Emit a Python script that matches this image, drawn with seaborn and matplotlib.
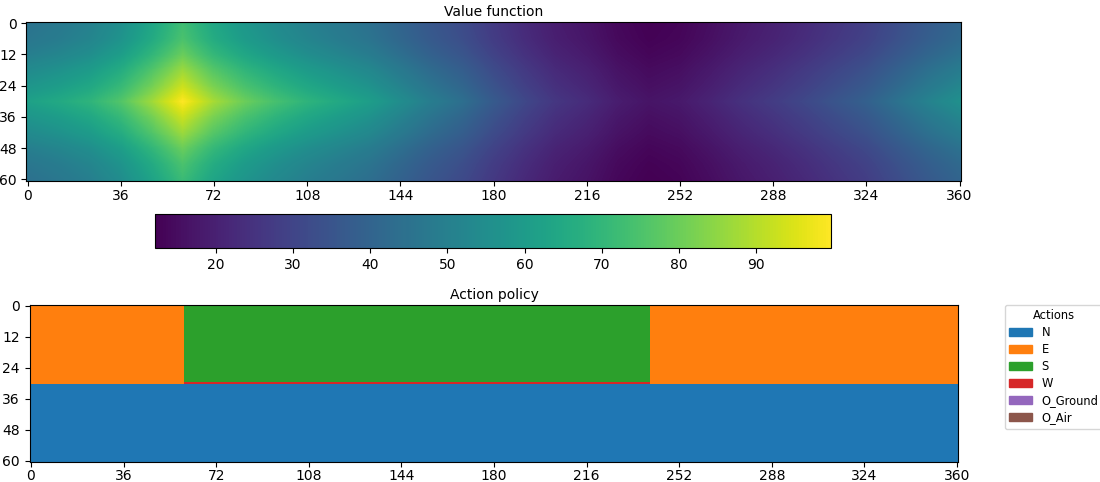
import numpy as np
import matplotlib
matplotlib.use("Agg")
import matplotlib.pyplot as plt
import seaborn as sns
from matplotlib.colors import ListedColormap
from matplotlib.patches import Patch

# ---------------- data ----------------
# Value function read along the row through the peak (every 12 columns, x = 0..360)
x_samples = list(range(0, 361, 12))
col_profile = [62, 65, 69, 76, 87, 99.7, 88, 80, 74, 69, 65, 61, 55, 49, 44, 37,
               31, 26, 23, 19, 16.8, 18, 21, 24.5, 27.5, 31, 35, 39, 45, 51, 56]
# Relative value read along the column through the peak (every 6 rows, y = 0..60), in %
y_samples = list(range(0, 61, 6))
row_profile = [73, 75, 80, 87, 93, 100, 93, 87, 80, 75, 72]

# Action policy
actions = ["N", "E", "S", "W", "O_Ground", "O_Air"]
n_rows, n_cols = 61, 361
seg_row_start = [0, 0, 0, 30, 30, 30, 31]
seg_row_end = [30, 30, 30, 31, 31, 31, 61]
seg_col_start = [0, 60, 241, 0, 60, 241, 0]
seg_col_end = [60, 241, 361, 60, 241, 361, 361]
seg_action = ["E", "S", "E", "E", "W", "E", "N"]

x_ticks = list(range(0, 361, 36))
y_ticks = list(range(0, 61, 12))

# ---------------- tables ----------------
value_grid = np.outer(np.array(row_profile) / 100.0, np.array(col_profile))

policy = np.zeros((n_rows, n_cols), dtype=int)
for r0, r1, c0, c1, a in zip(seg_row_start, seg_row_end, seg_col_start, seg_col_end, seg_action):
    policy[r0:r1, c0:c1] = actions.index(a)

# ---------------- figure ----------------
W, H = 1100, 482
fig = plt.figure(figsize=(W / 100, H / 100), dpi=100)


def rect(l, t, r, b):
    return [l / W, 1 - b / H, (r - l) / W, (b - t) / H]


# Value function
ax1 = fig.add_axes(rect(26.4, 21.8, 960.9, 180.8))
dx = x_samples[1] - x_samples[0]
dy = y_samples[1] - y_samples[0]
im = ax1.imshow(value_grid, cmap="viridis", interpolation="bilinear", aspect="auto",
                extent=(x_samples[0] - dx / 2, x_samples[-1] + dx / 2,
                        y_samples[-1] + dy / 2, y_samples[0] - dy / 2))
ax1.set_xlim(-0.5, 360.5)
ax1.set_ylim(60.5, -0.5)
ax1.set_xticks(x_ticks)
ax1.set_yticks(y_ticks)
ax1.tick_params(axis="x", pad=2.5)
ax1.set_title("Value function", fontsize=10, pad=4)

cax = fig.add_axes(rect(155, 214, 831, 248))
fig.colorbar(im, cax=cax, orientation="horizontal")

# Action policy
colors = sns.color_palette("tab10", len(actions))
ax2 = fig.add_axes(rect(29.7, 304.5, 958.3, 461.8))
sns.heatmap(policy, cmap=ListedColormap(colors), vmin=-0.5, vmax=len(actions) - 0.5,
            cbar=False, ax=ax2, xticklabels=False, yticklabels=False)
ax2.set_xticks([t + 0.5 for t in x_ticks])
ax2.set_xticklabels([str(t) for t in x_ticks], rotation=0)
ax2.set_yticks([t + 0.5 for t in y_ticks])
ax2.set_yticklabels([str(t) for t in y_ticks], rotation=0)
ax2.tick_params(axis="both", length=3.5, width=0.8, left=True, bottom=True, labelsize=10)
ax2.tick_params(axis="x", pad=2.0)
for s in ax2.spines.values():
    s.set_visible(True)
    s.set_linewidth(0.8)
ax2.set_title("Action policy", fontsize=10, pad=4)

handles = [Patch(facecolor=c, edgecolor=c, label=a) for a, c in zip(actions, colors)]
ax2.legend(handles=handles, title="Actions", loc="upper left", bbox_to_anchor=(1.05, 1),
           borderaxespad=0, fontsize=8.3, title_fontsize=8.3, labelspacing=0.35)

fig.savefig("out.png", dpi=100)
